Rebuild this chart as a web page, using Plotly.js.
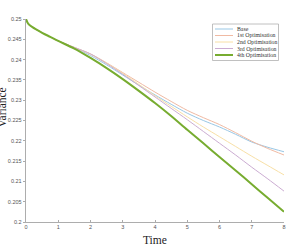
<!DOCTYPE html>
<html>
<head>
<meta charset="utf-8">
<script src="https://cdn.plot.ly/plotly-3.0.1.min.js"></script>
<style>html,body{margin:0;padding:0;background:#fff;}#chart{width:299px;height:250px;}</style>
</head>
<body>
<div id="chart"></div>
<script>
// ---- data ----
const time = [0, 0.05, 0.1, 0.2, 0.3, 0.5, 0.75, 1, 1.5, 2, 2.5, 3, 3.5, 4, 4.5, 5, 5.5, 6, 6.5, 7, 7.5, 8];
const early = [0.2500, 0.2491, 0.2486, 0.2480, 0.2475, 0.2466, 0.2456, 0.2446];
const base   = early.concat([0.2429, 0.2410, 0.2387, 0.2362, 0.2337, 0.2313, 0.2290, 0.2268, 0.2250, 0.2234, 0.2216, 0.2197, 0.2184, 0.2173]);
const opt1   = early.concat([0.2430, 0.2414, 0.2392, 0.2368, 0.2344, 0.2320, 0.2297, 0.2275, 0.2257, 0.2240, 0.2220, 0.2199, 0.2181, 0.2165]);
const opt2   = early.concat([0.2430, 0.2413, 0.2391, 0.2366, 0.2339, 0.2311, 0.2285, 0.2259, 0.2234, 0.2210, 0.2186, 0.2162, 0.2139, 0.2116]);
const opt3   = early.concat([0.2430, 0.2414, 0.2390, 0.2364, 0.2336, 0.2308, 0.2280, 0.2252, 0.2223, 0.2194, 0.2165, 0.2135, 0.2106, 0.2076]);
const opt4   = early.concat([0.2427, 0.2404, 0.2379, 0.2352, 0.2323, 0.2293, 0.2261, 0.2227, 0.2194, 0.2160, 0.2127, 0.2093, 0.2059, 0.2025]);
const seriesNames = ["Base", "1st Optimisation", "2nd Optimisation", "3rd Optimisation", "4th Optimisation"];
const xTicks = [0, 1, 2, 3, 4, 5, 6, 7, 8];
const yTicks = [0.2, 0.205, 0.21, 0.215, 0.22, 0.225, 0.23, 0.235, 0.24, 0.245, 0.25];
const yTickLabels = ["0.2", "0.205", "0.21", "0.215", "0.22", "0.225", "0.23", "0.235", "0.24", "0.245", "0.25"];

// ---- styling ----
const colors = ["#99c7e5", "#f0baa3", "#f8e0a6", "#cbacd2", "#77ac30"];
const widths = [1, 1, 1, 1, 2];
const allY = [base, opt1, opt2, opt3, opt4];

const traces = allY.map((y, i) => ({
  x: time, y: y, type: "scatter", mode: "lines", name: seriesNames[i],
  line: {color: colors[i], width: widths[i], shape: "spline", smoothing: 0.8},
  showlegend: false, hoverinfo: "skip"
}));

// plot geometry in pixels (for custom legend placement)
const L = 26, R = 15, T = 19, B = 28, W = 299, H = 250;
const pw = W - L - R, ph = H - T - B;
const px = x => (x - L) / pw;
const py = y => (H - B - y) / ph;

const shapes = [{
  type: "rect", xref: "paper", yref: "paper",
  x0: px(212.5), x1: px(278.5), y0: py(60.5), y1: py(24),
  line: {color: "#b0b0b0", width: 0.8}, fillcolor: "#ffffff"
}];
const annotations = [];
const rowY = [29, 35.5, 42, 48.5, 55];
seriesNames.forEach((n, i) => {
  shapes.push({type: "line", xref: "paper", yref: "paper",
    x0: px(215), x1: px(233), y0: py(rowY[i]), y1: py(rowY[i]),
    line: {color: colors[i], width: widths[i]}});
  annotations.push({xref: "paper", yref: "paper", x: px(234.5), y: py(rowY[i]),
    xanchor: "left", yanchor: "middle", text: n, showarrow: false,
    font: {family: "Liberation Serif", size: 5.8, color: "#333"}});
});
annotations.push({xref: "paper", yref: "paper", x: 0.5, y: py(239.5), xanchor: "center", yanchor: "middle",
  text: "Time", showarrow: false, font: {family: "Liberation Serif", size: 11.5, color: "#222"}});
annotations.push({xref: "paper", yref: "paper", x: px(1.5), y: py(108), xanchor: "center", yanchor: "middle",
  text: "Variance", textangle: -90, showarrow: false, font: {family: "Liberation Serif", size: 11.5, color: "#222"}});

const layout = {
  width: W, height: H,
  margin: {l: L, r: R, t: T, b: B, pad: 0},
  paper_bgcolor: "#fff", plot_bgcolor: "#fff",
  showlegend: false,
  xaxis: {range: [0, 8], tickvals: xTicks, ticktext: xTicks.map(String), ticks: "inside", ticklen: 2.5,
    tickcolor: "#888", tickwidth: 0.7, showgrid: false, zeroline: false, showline: true,
    linecolor: "#999", linewidth: 0.8, tickfont: {family: "Liberation Sans", size: 5.5, color: "#555"}, fixedrange: true},
  yaxis: {range: [0.2, 0.25], tickvals: yTicks, ticktext: yTickLabels, ticks: "outside", ticklen: 2.5,
    tickcolor: "#888", tickwidth: 0.7, showgrid: false, zeroline: false, showline: true,
    linecolor: "#999", linewidth: 0.8, tickfont: {family: "Liberation Sans", size: 5.5, color: "#555"}, fixedrange: true},
  shapes: shapes, annotations: annotations
};

Plotly.newPlot("chart", traces, layout, {staticPlot: true, displayModeBar: false});
</script>
</body>
</html>
